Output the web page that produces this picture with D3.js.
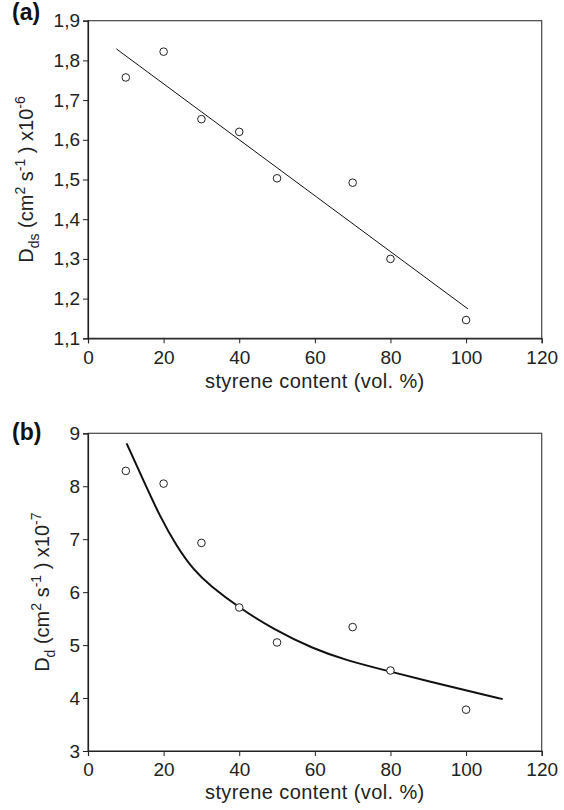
<!DOCTYPE html>
<html><head><meta charset="utf-8">
<script src="https://cdn.jsdelivr.net/npm/d3@7"></script>
<style>
body{margin:0;background:#fff;}
svg{display:block;font-family:"Liberation Sans",Arial,Helvetica,sans-serif;}
</style></head>
<body><svg id="c" width="564" height="810"></svg>
<script>
// ---- data ----
const styreneA = [10, 20, 30, 40, 50, 70, 80, 100];
const Dds = [1.757, 1.822, 1.652, 1.620, 1.503, 1.492, 1.300, 1.146];
const fitAx = [7.5, 100.5];
const fitAy = [1.829, 1.174];

const styreneB = [10, 20, 30, 40, 50, 70, 80, 100];
const Dd = [8.29, 8.05, 6.93, 5.71, 5.05, 5.34, 4.52, 3.78];
const fitBx = [10.2, 14.6, 19.0, 23.5, 27.9, 32.3, 39.9, 49.0, 59.6, 68.4, 79.9, 90.5, 100.2, 109.7];
const fitBy = [8.81, 8.12, 7.43, 6.86, 6.42, 6.12, 5.71, 5.30, 4.93, 4.71, 4.50, 4.31, 4.14, 3.98];

const xTicks = [0, 20, 40, 60, 80, 100, 120];
const yTicksA = [1.1, 1.2, 1.3, 1.4, 1.5, 1.6, 1.7, 1.8, 1.9];
const yTicksB = [3, 4, 5, 6, 7, 8, 9];
const xTitle = "styrene content (vol. %)";

// ---- drawing ----
const svg = d3.select("#c");
const left = 88, right = 541.7;
const comma = v => d3.format(".1f")(v).replace(".", ",");

function panel(opts) {
  const x = d3.scaleLinear().domain([0, 120]).range([left, right]);
  const y = d3.scaleLinear().domain(opts.ydom).range([opts.bottom, opts.top]);
  const g = svg.append("g");
  // frame
  g.append("rect").attr("x", left).attr("y", opts.top)
    .attr("width", right - left).attr("height", opts.bottom - opts.top)
    .attr("fill", "none").attr("stroke", "#444").attr("stroke-width", 1.2);
  const xa = g.append("g").attr("transform", `translate(0,${opts.bottom})`)
    .call(d3.axisBottom(x).tickValues(xTicks).tickSize(5).tickPadding(7).tickFormat(d3.format("d")));
  const ya = g.append("g").attr("transform", `translate(${left},0)`)
    .call(d3.axisLeft(y).tickValues(opts.yticks).tickSize(5).tickPadding(3).tickFormat(opts.fmt));
  [xa, ya].forEach(a => {
    a.select(".domain").attr("stroke", "#222").attr("stroke-width", 1.2);
    a.selectAll(".tick line").attr("stroke", "#222");
    a.selectAll(".tick text").attr("fill", "#222").style("font-size", "19px")
      .style("font-family", '"Liberation Sans",Arial,sans-serif');
  });
  // fit line
  const pts = opts.fx.map((v, i) => [v, opts.fy[i]]);
  g.append("path").datum(pts)
    .attr("d", d3.line().x(d => x(d[0])).y(d => y(d[1])).curve(d3.curveBasis))
    .attr("fill", "none").attr("stroke", "#111").attr("stroke-width", opts.lw);
  // points
  g.selectAll("circle.pt").data(opts.px.map((v, i) => [v, opts.py[i]])).enter()
    .append("circle").attr("class", "pt")
    .attr("cx", d => x(d[0])).attr("cy", d => y(d[1])).attr("r", 3.8)
    .attr("fill", "#fff").attr("stroke", "#222").attr("stroke-width", 1);
  // x title
  g.append("text").attr("x", (left + right) / 2).attr("y", opts.xtitleY)
    .attr("text-anchor", "middle").attr("fill", "#222").style("font-size", "20px")
    .style("letter-spacing", "0.4px").text(xTitle);
  // y title
  const cy = (opts.top + opts.bottom) / 2;
  const t = g.append("text").attr("transform", `translate(${opts.ytitleX},${cy}) rotate(-90)`)
    .attr("text-anchor", "middle").attr("fill", "#222").style("font-size", "20px");
  t.append("tspan").text("D");
  t.append("tspan").attr("dy", 6).style("font-size", "14px").text(opts.sub);
  t.append("tspan").attr("dy", -6).text(" (cm");
  t.append("tspan").attr("dy", -8).style("font-size", "14px").text("2");
  t.append("tspan").attr("dy", 8).text(" s");
  t.append("tspan").attr("dy", -8).style("font-size", "14px").text("-1");
  t.append("tspan").attr("dy", 8).text(" ) x10");
  t.append("tspan").attr("dy", -8).style("font-size", "14px").text(opts.exp);
  // panel letter
  g.append("text").attr("x", 12).attr("y", opts.letterY).attr("fill", "#111")
    .style("font-size", "23px").style("font-weight", "bold").text(opts.letter);
}

panel({ top: 20.7, bottom: 338.3, ydom: [1.1, 1.9], yticks: yTicksA, fmt: comma,
  fx: fitAx, fy: fitAy, lw: 1, px: styreneA, py: Dds,
  xtitleY: 388, ytitleX: 33, sub: "ds", exp: "-6", letter: "(a)", letterY: 20 });
panel({ top: 433.3, bottom: 751, ydom: [3, 9], yticks: yTicksB, fmt: d3.format("d"),
  fx: fitBx, fy: fitBy, lw: 2, px: styreneB, py: Dd,
  xtitleY: 799, ytitleX: 49, sub: "d", exp: "-7", letter: "(b)", letterY: 440 });
</script></body></html>
